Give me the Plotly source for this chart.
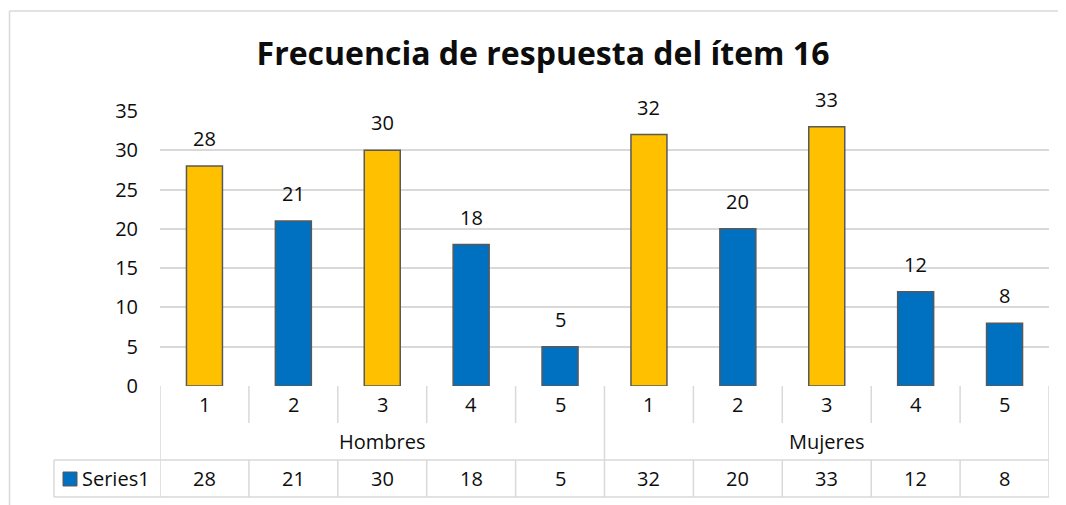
import plotly.graph_objects as go

# ---- data ----
groups = ["Hombres", "Mujeres"]
responses = ["1", "2", "3", "4", "5"]
hombres = [28, 21, 30, 18, 5]
mujeres = [32, 20, 33, 12, 8]
series_name = "Series1"
title = "Frecuencia de respuesta del ítem 16"
y_ticks = [0, 5, 10, 15, 20, 25, 30, 35]

values = hombres + mujeres
cat_labels = responses + responses
x_idx = list(range(len(values)))
YELLOW = "#FFC000"
BLUE = "#0070C0"
colors = [YELLOW if r in ("1", "3") else BLUE for r in cat_labels]

# page has an 8px body margin; figure fills the rest of the window
OFF = 8
FW, FH = 1066 - OFF, 505 - OFF
FONT = "'Open Sans', sans-serif"
TXT = "#0d0d0d"
GRID = "#D9D9D9"
FS = 20

def px(x):
    return (x - OFF) / FW

def py(y):
    return 1 - (y - OFF) / FH

# plot area in window pixels
L, R, T, B = 160, 1049, 111, 386
row1_b, row2_b, row3_b = 423, 460, 497
leg_l = 54

fig = go.Figure()
fig.add_trace(go.Bar(
    x=x_idx, y=values, width=0.405,
    marker=dict(color=colors, line=dict(color="#595959", width=1.5)),
    showlegend=False, hoverinfo="x+y",
))

shapes = []
def line(x0, y0, x1, y1, xref="paper"):
    shapes.append(dict(type="line", xref=xref, yref="paper",
                       x0=x0, x1=x1, y0=py(y0), y1=py(y1),
                       line=dict(color=GRID, width=1.5), layer="below"))

# outer chart border (left and top)
line(px(9.5), 11, px(9.5), 520)
line(px(9.5), 11, px(1080), 11)

n = len(values)
for k in range(n + 1):
    xb = k - 0.5
    if k in (0, n // 2, n):
        line(xb, B, xb, row3_b, xref="x")
    else:
        line(xb, B, xb, row1_b, xref="x")
        line(xb, row2_b, xb, row3_b, xref="x")
line(px(leg_l), row2_b, px(R), row2_b)
line(px(leg_l), row3_b, px(R), row3_b)
line(px(leg_l), row2_b, px(leg_l), row3_b)

# legend key square
shapes.append(dict(type="rect", xref="paper", yref="paper",
                   x0=px(63), x1=px(77), y0=py(486), y1=py(472),
                   fillcolor=BLUE, line=dict(color="#595959", width=1)))

annotations = []
font = dict(family=FONT, size=FS, color=TXT)
# data labels above bars
for i, v in enumerate(values):
    annotations.append(dict(x=i, y=v, xref="x", yref="y", text=str(v),
                            showarrow=False, yanchor="bottom", yshift=12, font=font))
# category numbers row
for i, c in enumerate(cat_labels):
    annotations.append(dict(x=i, y=py((B + row1_b) / 2), xref="x", yref="paper",
                            yanchor="middle", text=c, showarrow=False, font=font))
per = len(responses)
for g, name in enumerate(groups):
    annotations.append(dict(x=g * per + (per - 1) / 2, y=py((row1_b + row2_b) / 2),
                            xref="x", yref="paper", yanchor="middle",
                            text=name, showarrow=False, font=font))
for i, v in enumerate(values):
    annotations.append(dict(x=i, y=py((row2_b + row3_b) / 2), xref="x", yref="paper",
                            yanchor="middle", text=str(v), showarrow=False, font=font))
annotations.append(dict(x=px(80), y=py((row2_b + row3_b) / 2), xref="paper", yref="paper",
                        xanchor="left", yanchor="middle", text=series_name,
                        showarrow=False, font=font))

fig.update_layout(
    width=FW, height=FH,
    margin=dict(l=0, r=0, t=0, b=0, pad=0),
    paper_bgcolor="white", plot_bgcolor="white",
    title=dict(text="<b>" + title + "</b>", x=px(543), xanchor="center",
               xref="paper", yref="paper", y=py(54), yanchor="middle",
               font=dict(family=FONT, size=32, color=TXT)),
    xaxis=dict(domain=[px(L), px(R)], range=[-0.5, n - 0.5], automargin=False,
               showticklabels=False, showgrid=False, zeroline=False,
               showline=False, ticks=""),
    yaxis=dict(domain=[py(B), py(T)], range=[0, 35], tickvals=y_ticks,
               automargin=False,
               showgrid=True, gridcolor=GRID, gridwidth=1.5,
               zeroline=False, showline=False, ticks="",
               ticklabelstandoff=21,
               tickfont=font),
    shapes=shapes, annotations=annotations,
)

fig.write_html("out.html")
